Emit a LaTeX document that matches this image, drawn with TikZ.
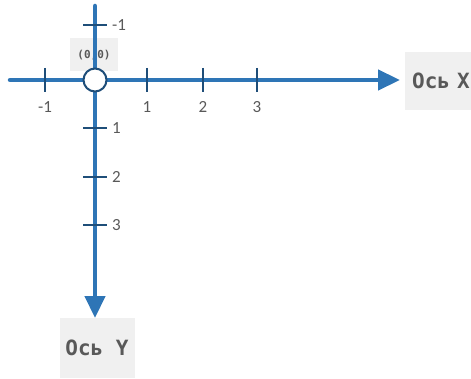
\documentclass[tikz,border=0pt]{standalone}
\usepackage{fontspec}
\setmainfont{Carlito}
\newfontfamily\monofont{DejaVu Sans Mono}
\usetikzlibrary{arrows.meta}
\definecolor{axisblue}{HTML}{2E75B6}
\definecolor{tickblue}{HTML}{1F4E79}
\definecolor{boxgray}{HTML}{F0F0F0}
\definecolor{labgray}{HTML}{595959}
\begin{document}
\begin{tikzpicture}[x=1pt,y=-1pt,
  axisline/.style={draw=axisblue,line width=4.5pt},
  tickmark/.style={draw=tickblue,line width=2pt},
  ticklab/.style={text=labgray,font=\fontsize{17}{17}\selectfont,inner sep=0pt},
  axbox/.style={fill=boxgray,text=labgray,font=\monofont\bfseries\fontsize{21}{21}\selectfont,inner sep=0pt,minimum width=75pt,minimum height=60pt},
  origlab/.style={fill=boxgray,text=labgray,font=\monofont\bfseries\fontsize{11}{11}\selectfont,inner sep=0pt,minimum width=48pt,minimum height=33pt}]
\useasboundingbox (0,0) rectangle (471,379);
% boxes
\node[axbox,anchor=west,minimum width=70pt,minimum height=58pt,align=left,inner xsep=7pt,text width=66pt] (bx) at (405,81) {Ось X};
\node[axbox] (by) at (97,348) {Ось Y};
\node[origlab] (ol) at (94,55) {(0,0)};
% axes
\coordinate (xs) at (10,80);
\coordinate (xe) at (400,80);
\coordinate (ys) at (95,6);
\coordinate (ye) at (95,318);
\draw[axisline,line cap=round] (xs) -- ([xshift=-20pt]xe);
\draw[axisline,line cap=round] (ys) -- ([yshift=20pt]ye);
\draw[axisline,-{Triangle[length=22pt,width=20pt]}] ([xshift=-30pt]xe) -- (xe);
\draw[axisline,-{Triangle[length=22pt,width=20pt]}] ([yshift=30pt]ye) -- (ye);
% x ticks
\foreach \x/\l/\n in {45/-1/xm1,147/1/x1,203/2/x2,257/3/x3}{
  \coordinate (\n a) at (\x,68);
  \coordinate (\n b) at (\x,92);
  \draw[tickmark] (\n a) -- (\n b);
  \node[ticklab] (\n l) at (\x,107) {\l};
}
% y ticks
\foreach \y/\l/\n in {25/-1/ym1,128/1/y1,177/2/y2,225/3/y3}{
  \coordinate (\n a) at (83,\y);
  \coordinate (\n b) at (107,\y);
  \draw[tickmark] (\n a) -- (\n b);
  \node[ticklab,anchor=west] (\n l) at (112,\y) {\l};
}
% origin
\node[circle,draw=tickblue,fill=white,line width=2pt,minimum size=23pt,inner sep=0pt] (o) at (95,80) {};
\end{tikzpicture}
\end{document}
